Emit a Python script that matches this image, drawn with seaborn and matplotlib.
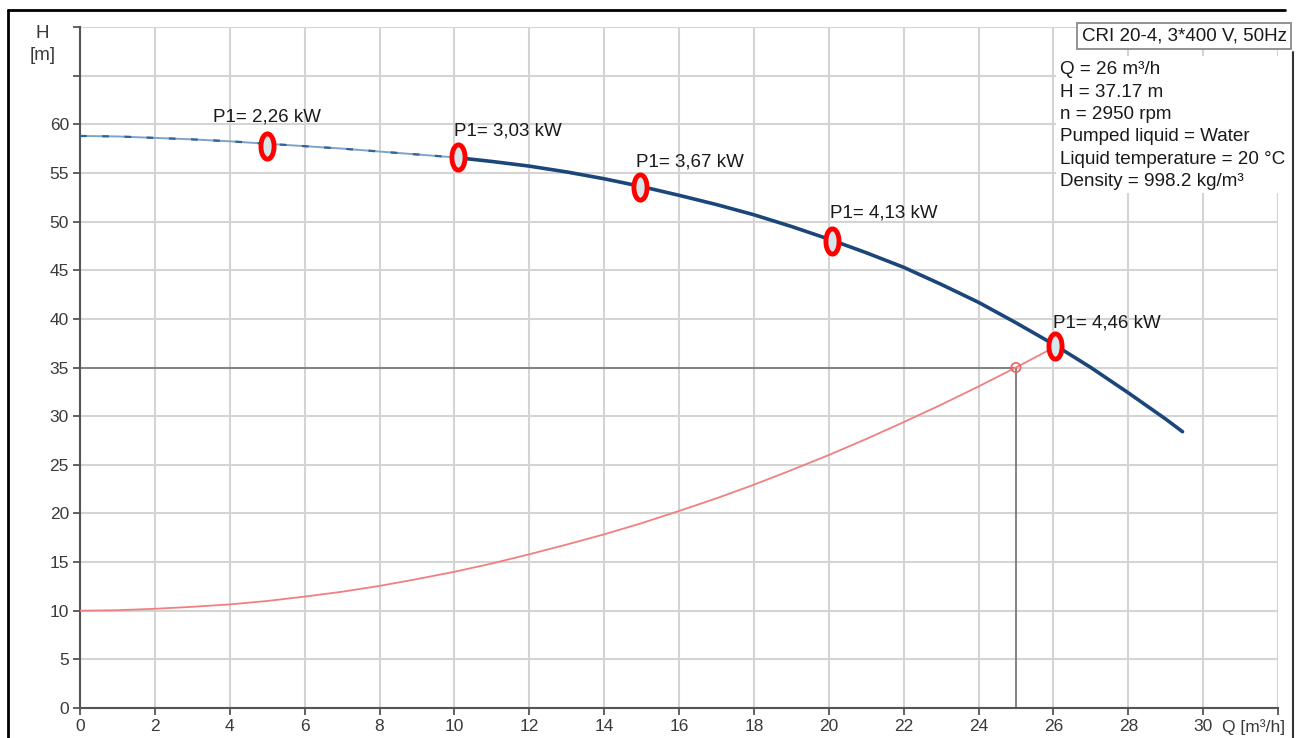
import numpy as np
import pandas as pd
import matplotlib
matplotlib.use("Agg")
import matplotlib.pyplot as plt
from matplotlib.path import Path
from matplotlib.lines import Line2D
from matplotlib.patches import Rectangle
import seaborn as sns

# ---------------- data ----------------
# pump curve, low-flow part (thin)
q_pump_low = [0, 1, 2, 3, 4, 5, 6, 7, 8, 9, 10]
h_pump_low = [58.8, 58.75, 58.6, 58.45, 58.25, 58.0, 57.75, 57.5, 57.2, 56.9, 56.6]
# pump curve, main part (thick)
q_pump = [10, 11, 12, 13, 14, 15, 16, 17, 18, 19, 20, 21, 22, 23, 24, 25, 26, 27, 28, 29, 29.45]
h_pump = [56.6, 56.18, 55.7, 55.1, 54.4, 53.6, 52.7, 51.75, 50.7, 49.5, 48.2, 46.8, 45.3,
          43.55, 41.7, 39.6, 37.4, 35.0, 32.4, 29.7, 28.4]
# system curve
q_sys = [0, 1, 2, 3, 4, 5, 6, 7, 8, 9, 10, 11, 12, 13, 14, 15, 16, 17, 18, 19, 20,
         21, 22, 23, 24, 25, 25.9]
h_sys = [10.0, 10.05, 10.2, 10.4, 10.65, 11.0, 11.45, 11.95, 12.55, 13.25, 14.0, 14.85,
         15.8, 16.8, 17.85, 19.0, 20.25, 21.55, 22.95, 24.45, 26.0, 27.65, 29.38, 31.17,
         33.05, 35.0, 36.83]
# power markers
q_power = [5.0, 10.1, 14.95, 20.1, 26.05]
h_power = [57.8, 56.6, 53.6, 48.0, 37.2]
power_labels = ["P1= 2,26 kW", "P1= 3,03 kW", "P1= 3,67 kW", "P1= 4,13 kW", "P1= 4,46 kW"]
label_q = [3.55, 10.0, 14.85, 20.03, 26.0]
label_h = [60.7, 59.3, 56.1, 50.9, 39.6]
# duty point
duty_q = 25
duty_h = 35
# info
title_box = "CRI 20-4, 3*400 V, 50Hz"
info_lines = ["Q = 26 m³/h", "H = 37.17 m", "n = 2950 rpm", "Pumped liquid = Water",
              "Liquid temperature = 20 °C", "Density = 998.2 kg/m³"]
x_ticks = list(range(0, 33, 2))
x_tick_labels = [str(v) if v <= 30 else "" for v in x_ticks]
y_ticks = list(range(0, 71, 5))
y_tick_labels = [str(v) if v <= 60 else "" for v in y_ticks]

# ---------------- style ----------------
sns.set_theme(style="whitegrid")
plt.rcParams["font.family"] = ["Liberation Sans", "DejaVu Sans"]

W, H = 1296, 738
fig = plt.figure(figsize=(W / 100, H / 100), dpi=100)
ax = fig.add_axes([80 / W, 1 - 708 / H, (1278 - 80) / W, (708 - 27) / H])
ax.set_facecolor("white")

ax.grid(True, color="#d4d4d4", linewidth=1.5)

# system curve
sns.lineplot(x=q_sys, y=h_sys, ax=ax, color="#f08080", linewidth=1.3, zorder=3)
# pump curve
sns.lineplot(x=q_pump_low, y=h_pump_low, ax=ax, color="#7fa3c6", linewidth=1.4, zorder=4)
sns.lineplot(x=q_pump_low, y=h_pump_low, ax=ax, color="#2f649a", linewidth=1.6,
             dashes=False, zorder=4).lines[-1].set_dashes([3, 7])
sns.lineplot(x=q_pump, y=h_pump, ax=ax, color="#1b467a", linewidth=2.6, zorder=4)

# duty point lines
ax.plot([0, duty_q], [duty_h, duty_h], color="#7a7a7a", linewidth=1.3, zorder=2)
ax.plot([duty_q, duty_q], [0, duty_h], color="#7a7a7a", linewidth=1.3, zorder=2)
sns.scatterplot(x=[duty_q], y=[duty_h], ax=ax, s=45, facecolor="none",
                edgecolor="#f06060", linewidth=1.2, zorder=5)

# ellipse markers
t = np.linspace(0, 2 * np.pi, 60)
ell = Path(np.column_stack([0.52 * np.cos(t), np.sin(t)]), closed=True)
sns.scatterplot(x=q_power, y=h_power, ax=ax, marker=ell, s=330,
                facecolor="#d6e6ea", edgecolor="#ff0000", linewidth=3.5, zorder=6)

for txt, lq, lh in zip(power_labels, label_q, label_h):
    ax.text(lq, lh, txt, fontsize=13.5, color="#1a1a1a", ha="left", va="center", zorder=7)

ax.set_xlim(0, 32)
ax.set_ylim(0, 70)
ax.set_xticks(x_ticks)
ax.set_xticklabels(x_tick_labels)
ax.set_yticks(y_ticks)
ax.set_yticklabels(y_tick_labels)
ax.tick_params(axis="both", which="both", direction="out", length=5, width=1.3,
               color="#555555", labelsize=12.5, labelcolor="#3a3a3a", pad=3,
               left=True, bottom=True)
ax.set_xlabel("")
ax.set_ylabel("")

for s in ["top", "right"]:
    ax.spines[s].set_visible(False)
for s in ["left", "bottom"]:
    ax.spines[s].set_color("#555555")
    ax.spines[s].set_linewidth(1.5)

# axis titles
ax.text(30.5, -0.028, "Q [m³/h]", transform=ax.get_xaxis_transform(), fontsize=12.5,
        color="#3a3a3a", ha="left", va="center", clip_on=False)
fig.text(42 / W, 1 - 34 / H, "H", fontsize=13.5, color="#3a3a3a", ha="center", va="center")
fig.text(43 / W, 1 - 56 / H, "[m]", fontsize=13.5, color="#3a3a3a", ha="center", va="center")

# title box
fig.text(1184 / W, 1 - 36 / H, title_box, fontsize=13.5, color="#1a1a1a", ha="center", va="center",
         bbox=dict(boxstyle="square,pad=0.25", facecolor="white", edgecolor="#8a8a8a", linewidth=1.3))
# info block with white background
fig.add_artist(Rectangle((1056 / W, 1 - 193 / H), (1290 - 1056) / W, (193 - 56) / H,
                         transform=fig.transFigure, facecolor="white", edgecolor="none", zorder=5))
for i, line in enumerate(info_lines):
    fig.text(1060 / W, 1 - (70 + i * 22.3) / H, line, fontsize=13.6, color="#1a1a1a",
             ha="left", va="center", zorder=6)

# outer frame lines
fig.add_artist(Line2D([8 / W, 8 / W], [0, 1 - 10 / H], transform=fig.transFigure, color="black", lw=2))
fig.add_artist(Line2D([8 / W, 1285 / W], [1 - 10 / H, 1 - 10 / H], transform=fig.transFigure, color="black", lw=2))
fig.add_artist(Line2D([1293 / W, 1293 / W], [0, 1 - 52 / H], transform=fig.transFigure, color="#333333", lw=1.5))

fig.savefig("out.png", dpi=100, facecolor="white")
